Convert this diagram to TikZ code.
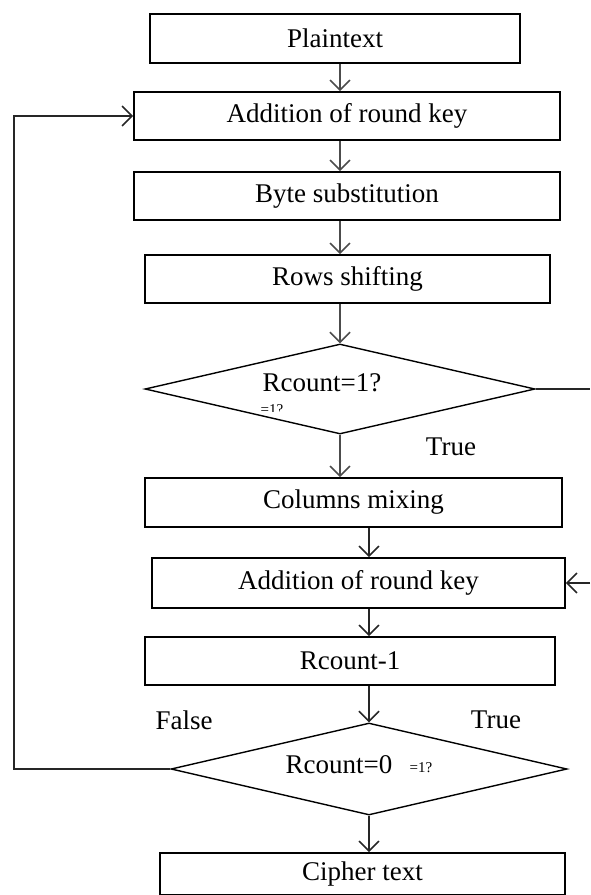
\documentclass[tikz,border=0pt]{standalone}
\usepackage{fontspec}
\setmainfont{Liberation Serif}
\usetikzlibrary{arrows.meta,shapes.geometric}
\tikzset{
  stage/.style={draw,line width=1.6pt,inner sep=0pt,font=\fontsize{27}{30}\selectfont},
  decide/.style={draw,line width=1.4pt,diamond,inner sep=0pt},
  lbl/.style={font=\fontsize{27}{30}\selectfont,inner sep=0pt},
  tiny/.style={font=\fontsize{15}{16}\selectfont,inner sep=0pt},
  flow/.style={draw=black!70,line width=1.6pt,-{Straight Barb[length=10pt,width=20pt,line width=1.6pt]}},
  wire/.style={draw=black!85,line width=1.5pt}
}
\begin{document}
\begin{tikzpicture}[x=1pt,y=-1pt]
\useasboundingbox (0,0) rectangle (590,895);
\coordinate (colA) at (340,0);
\coordinate (colB) at (369,0);
\node[stage,minimum width=370pt,minimum height=49pt] (plain) at (335,38.5) {Plaintext};
\node[stage,minimum width=426pt,minimum height=48pt] (add1) at (347,116) {Addition of round key};
\node[stage,minimum width=426pt,minimum height=48pt] (byte) at (347,196) {Byte substitution};
\node[stage,minimum width=405pt,minimum height=48pt] (rows) at (347.5,279) {Rows shifting};
\node[decide,minimum width=390pt,minimum height=90pt] (chk1) at (340,389) {};
\node[lbl] (q1) at (322,383) {Rcount=1?};
\begin{scope}
\clip (250,399) rectangle (300,411);
\node[tiny] (q1b) at (272,410) {=1?};
\end{scope}
\node[lbl] (t1) at (451,447) {True};
\node[stage,minimum width=417pt,minimum height=49pt] (cols) at (353.5,502.5) {Columns mixing};
\node[stage,minimum width=413pt,minimum height=50pt] (add2) at (358.5,583) {Addition of round key};
\node[stage,minimum width=410pt,minimum height=48pt] (dec) at (350,661) {Rcount-1};
\node[decide,minimum width=396pt,minimum height=92pt] (chk0) at (369,769) {};
\node[lbl] (q0) at (339,765) {Rcount=0};
\node[tiny] (q0b) at (421,768) {=1?};
\node[lbl] (f0) at (184,720) {False};
\node[lbl] (t0) at (496,720) {True};
\node[stage,minimum width=405pt,minimum height=42pt] (ciph) at (362.5,874) {Cipher text};
\coordinate (loopL) at (14,0);
\coordinate (rimR) at (590,0);
\draw[flow] (plain.south -| colA) -- (add1.north -| colA);
\draw[flow] (add1.south -| colA) -- (byte.north -| colA);
\draw[flow] (byte.south -| colA) -- (rows.north -| colA);
\draw[flow] (rows.south -| colA) -- (chk1.north);
\draw[flow] (chk1.south) -- (cols.north -| colA);
\draw[flow,draw=black!85] (cols.south -| colB) -- (add2.north -| colB);
\draw[flow,draw=black!85] (add2.south -| colB) -- (dec.north -| colB);
\draw[flow,draw=black!85] (dec.south -| colB) -- (chk0.north);
\draw[flow,draw=black!85] (chk0.south) -- (ciph.north -| chk0.south);
\draw[wire] (chk1.east) -- (chk1.east -| rimR);
\draw[flow,draw=black!85] (add2.east -| rimR) -- (add2.east);
\draw[flow,draw=black!85] (chk0.west) -- (chk0.west -| loopL) -- (add1.west -| loopL) -- (add1.west);
\end{tikzpicture}
\end{document}
